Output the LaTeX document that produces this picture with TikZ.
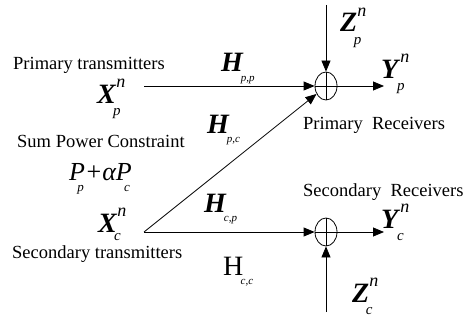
\documentclass[tikz,border=0pt]{standalone}
\usepackage{amsmath}
\usepackage{fontspec}
\setmainfont{Liberation Serif}
\usetikzlibrary{arrows.meta,shapes.geometric}

% bold italic symbol with superscript and subscript
\newcommand\bsym[4][0.45em]{\textbf{\textit{#2}}\rlap{\raisebox{0.55em}{\fontsize{18}{18}\selectfont\textit{#3}}}\rlap{\hspace{-0.12em}\raisebox{-#1}{\fontsize{15}{15}\selectfont\textit{#4}}}}
\newcommand\hsym[2]{\textbf{\textit{#1}}\hspace{-0.1em}\raisebox{-0.35em}{\fontsize{11}{11}\selectfont\textit{#2}}}
\newcommand\psub[1]{\rlap{\hspace{-0.3em}\raisebox{-0.45em}{\fontsize{13}{13}\selectfont\textit{#1}}}}

\begin{document}
\begin{tikzpicture}[x=1pt,y=-1pt,>={Triangle[length=11pt,width=9pt]}]
  \tikzset{label/.style={font=\fontsize{18.5}{20}\selectfont,anchor=base west,inner sep=0pt},
    sym/.style={font=\fontsize{28}{28}\selectfont,anchor=base west,inner sep=0pt},
    adder/.style={draw,ellipse,thick,minimum width=22pt,minimum height=28pt,inner sep=0pt,
      path picture={\draw[thick] (path picture bounding box.north)--(path picture bounding box.south)
        (path picture bounding box.west)--(path picture bounding box.east);}},
    wire/.style={thick}}
  \useasboundingbox (0,0) rectangle (469,321);

  \node[adder] (adp) at (326,86) {};
  \node[adder] (adc) at (326,232) {};

  \coordinate (txp) at (144,86);
  \coordinate (txc) at (144,232);
  \coordinate (zptop) at (326,5);
  \coordinate (zcbot) at (326,312);
  \coordinate (ypend) at (384,86);
  \coordinate (ycend) at (384,232);

  \draw[wire,->] (txp) -- (adp.west);
  \draw[wire,->] (txc) -- (adp.220);
  \draw[wire,->] (txc) -- (adc.west);
  \draw[wire,->] (zptop) -- (adp.north);
  \draw[wire,->] (zcbot) -- (adc.south);
  \draw[wire,->] (adp.east) -- (ypend);
  \draw[wire,->] (adc.east) -- (ycend);

  \node[label] (ptx) at (13,70) {Primary transmitters};
  \node[sym] (xp) at (97,103) {\bsym{X}{n}{p}};
  \node[label] (spc) at (17,147) {Sum Power Constraint};
  \node[sym,font=\fontsize{26}{26}\selectfont] (pwr) at (69,180) {\textit{P}\psub{p}\hspace{0.06em}+\hspace{0.04em}\textit{αP}\psub{c}};
  \node[sym] (xc) at (98,232) {\bsym[0.3em]{X}{n}{c}};
  \node[label] (stx) at (12,258) {Secondary transmitters};

  \node[sym] (hpp) at (221,72) {\hsym{H}{p,p}};
  \node[sym] (hpc) at (207,133) {\hsym{H}{p,c}};
  \node[sym] (hcp) at (204,212) {\hsym{H}{c,p}};
  \node[sym] (hcc) at (223,275) {H\hspace{-0.1em}\raisebox{-0.35em}{\fontsize{11}{11}\selectfont\textit{c,c}}};

  \node[sym] (zp) at (340,32) {\bsym{Z}{n}{p}};
  \node[sym] (yp) at (381,78) {\bsym{Y}{n}{p}};
  \node[label] (prx) at (303,129) {Primary\ \ Receivers};
  \node[label] (srx) at (303,196) {Secondary\ \ Receivers};
  \node[sym] (yc) at (381,228) {\bsym{Y}{n}{c}};
  \node[sym] (zc) at (352,302) {\bsym{Z}{n}{c}};
\end{tikzpicture}
\end{document}
